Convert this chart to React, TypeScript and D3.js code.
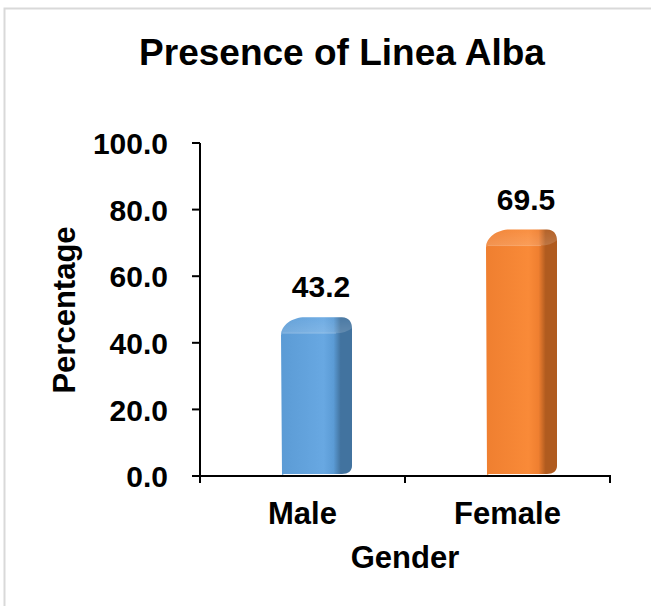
import React from 'react';
import * as d3 from 'd3';

const categories = ['Male', 'Female'];
const values = [43.2, 69.5];
const yTicks = [0, 20, 40, 60, 80, 100];
const barColors = [
  { front: '#5b9bd5', light: '#68a8e2', side: '#42739f' },
  { front: '#ef7f30', light: '#f98a38', side: '#b05b1f' },
];

const W = 651;
const H = 606;
const FONT = 'Arial, "Liberation Sans", sans-serif';

const App = () => {
  const y = d3.scaleLinear().domain([0, 100]).range([476, 143]);
  const x = d3.scaleBand().domain(categories).range([200, 610]).padding(0);
  const fmt = d3.format('.1f');
  const yb = y(0);

  const bars = categories.map((c, i) => {
    const x0 = (x(c) as number) + 81;
    const xf = x0 + 55;
    const xr = x0 + 71;
    const yv = y(values[i]);
    const body = `M${x0 + 1},${yb - 1} L${x0},${yv + 3} C${x0},${yv - 7} ${x0 + 11},${yv - 15} ${x0 + 24},${yv - 15} L${xr - 10},${yv - 15} C${xr - 3},${yv - 15} ${xr},${yv - 10} ${xr},${yv - 4} L${xr},${yb - 10} C${xr},${yb - 5} ${xr - 4},${yb - 2} ${xr - 10},${yb - 2} L${x0 + 3},${yb - 2} Z`;
    const cap = `M${x0},${yv + 3} C${x0},${yv - 7} ${x0 + 11},${yv - 15} ${x0 + 24},${yv - 15} L${xr - 10},${yv - 15} C${xr - 3},${yv - 15} ${xr},${yv - 10} ${xr},${yv - 4} C${xr - 4},${yv - 1} ${xf + 6},${yv + 1} ${xf},${yv + 1} L${x0 + 2},${yv + 1} Z`;
    return { c, i, x0, xf, xr, yv, body, cap };
  });

  return (
    <svg
      width={W}
      height={H}
      style={{ position: 'absolute', left: 0, top: 0, background: '#fff' }}
      fontFamily={FONT}
    >
      <defs>
        {barColors.map((col, i) => (
          <linearGradient key={i} id={`g${i}`} x1="0" x2="1" y1="0" y2="0">
            <stop offset="0" stopColor={col.front} />
            <stop offset="0.6" stopColor={col.light} />
            <stop offset="0.74" stopColor={col.front} />
            <stop offset="0.84" stopColor={col.side} />
            <stop offset="1" stopColor={col.side} />
          </linearGradient>
        ))}
        <linearGradient id="capg" x1="0" x2="0" y1="0" y2="1">
          <stop offset="0" stopColor="#fff" stopOpacity="0.05" />
          <stop offset="1" stopColor="#fff" stopOpacity="0.18" />
        </linearGradient>
      </defs>

      <rect x={4.5} y={8.5} width={W + 10} height={H + 10} fill="none" stroke="#d9d9d9" strokeWidth={2} />

      <text x={342} y={65} textAnchor="middle" fontSize={37} fontWeight="bold">
        Presence of Linea Alba
      </text>

      {bars.map((b) => (
        <g key={b.c}>
          <path d={b.body} fill={`url(#g${b.i})`} />
          <path d={b.cap} fill="url(#capg)" />
          <line x1={b.x0 + 2} x2={b.xf} y1={b.yv + 1} y2={b.yv + 1} stroke="#fff" strokeOpacity={0.2} />
          <text x={b.x0 + 40} y={b.yv - 35} textAnchor="middle" fontSize={30} fontWeight="bold">
            {fmt(values[b.i])}
          </text>
        </g>
      ))}

      {/* y axis */}
      <line x1={200} x2={200} y1={y(100)} y2={yb + 7} stroke="#000" strokeWidth={2} />
      {yTicks.map((t) => (
        <g key={t}>
          <line x1={192} x2={200} y1={y(t)} y2={y(t)} stroke="#000" strokeWidth={2} />
          <text x={168} y={y(t)} dy="0.37em" textAnchor="end" fontSize={30} fontWeight="bold">
            {fmt(t)}
          </text>
        </g>
      ))}

      {/* x axis */}
      <line x1={192} x2={611} y1={yb} y2={yb} stroke="#000" strokeWidth={2} />
      {[...categories.map((c) => x(c) as number), 610].map((v, i) => (
        <line key={i} x1={v} x2={v} y1={yb} y2={yb + 7} stroke="#000" strokeWidth={2} />
      ))}
      {categories.map((c) => (
        <text key={c} x={(x(c) as number) + x.bandwidth() / 2} y={524} textAnchor="middle" fontSize={31} fontWeight="bold">
          {c}
        </text>
      ))}

      <text x={405} y={568} textAnchor="middle" fontSize={31} fontWeight="bold">
        Gender
      </text>
      <text transform="translate(75,310) rotate(-90)" textAnchor="middle" fontSize={31} fontWeight="bold">
        Percentage
      </text>
    </svg>
  );
};

export default App;
